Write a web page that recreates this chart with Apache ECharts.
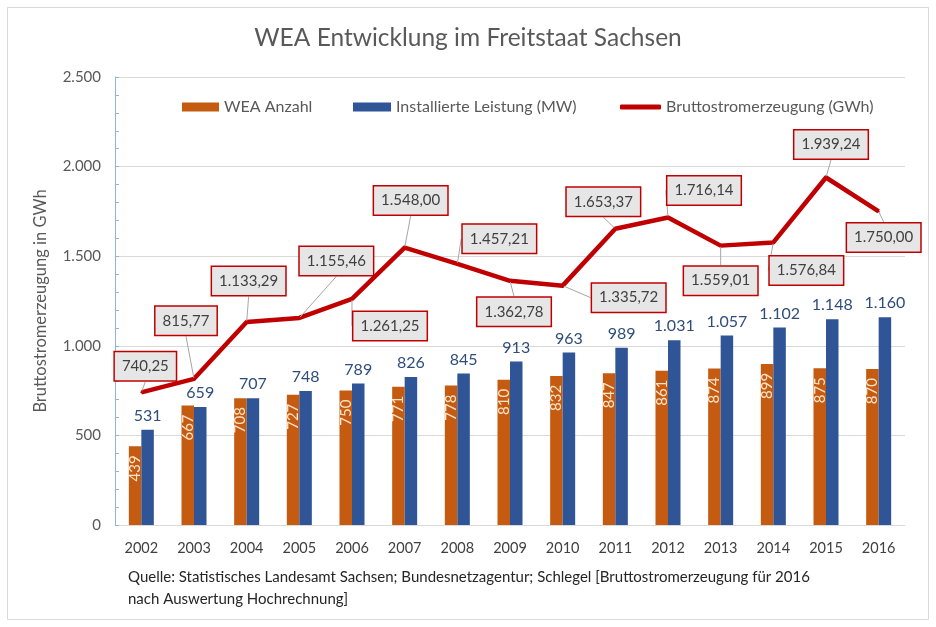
<!DOCTYPE html>
<html>
<head>
<meta charset="utf-8">
<script src="https://cdn.jsdelivr.net/npm/echarts@6/dist/echarts.min.js"></script>
<style>
html,body{margin:0;padding:0;background:#fff;}
#c{width:936px;height:627px;}
</style>
</head>
<body>
<div id="c"></div>
<script>
var years = ['2002','2003','2004','2005','2006','2007','2008','2009','2010','2011','2012','2013','2014','2015','2016'];
var weaAnzahl = [439, 667, 708, 727, 750, 771, 778, 810, 832, 847, 861, 874, 899, 875, 870];
var leistungMW = [531, 659, 707, 748, 789, 826, 845, 913, 963, 989, 1031, 1057, 1102, 1148, 1160];
var bruttoGWh = [740.25, 815.77, 1133.29, 1155.46, 1261.25, 1548.00, 1457.21, 1362.78, 1335.72, 1653.37, 1716.14, 1559.01, 1576.84, 1939.24, 1750.00];
var yTicks = [0, 500, 1000, 1500, 2000, 2500];

// label callout offsets (layout only)
var calloutOffsets = [[4,-26],[-8,-58],[2,-41],[37,-57],[38,27],[6,-47],[42,-25],[4,31],[66,12],[-12,-27],[36,-27],[0,35],[33,28],[5,-33],[5,26]];

var FONT = 'Lato';
function deNum(v, dec) {
  var s = v.toFixed(dec);
  var parts = s.split('.');
  var intPart = parts[0].replace(/\B(?=(\d{3})+(?!\d))/g, '.');
  return dec > 0 ? intPart + ',' + parts[1] : intPart;
}

var chart = echarts.init(document.getElementById('c'), null, {renderer: 'canvas'});
var option = {
  animation: false,
  backgroundColor: '#fff',
  textStyle: {fontFamily: FONT},
  title: {
    text: 'WEA Entwicklung im Freitstaat Sachsen',
    left: 'center', top: 21,
    textStyle: {fontFamily: FONT, fontSize: 24.5, fontWeight: 'normal', color: '#595959'}
  },
  graphic: [
    {type: 'rect', left: 5, top: 5, shape: {width: 921, height: 612}, style: {fill: 'none', stroke: '#d9d9d9', lineWidth: 1}, silent: true},
    {type: 'text', left: 128, top: 566, style: {text: 'Quelle: Statistisches Landesamt Sachsen; Bundesnetzagentur; Schlegel [Bruttostromerzeugung für 2016\nnach Auswertung Hochrechnung]', font: '15px ' + FONT, fill: '#262626', lineHeight: 22}}
  ],
  legend: [
    {data: [{name: 'WEA Anzahl', icon: 'rect'}], left: 177, top: 94, itemWidth: 37, itemHeight: 9, itemGap: 5, textStyle: {fontSize: 16, color: '#595959', fontFamily: FONT}},
    {data: [{name: 'Installierte Leistung (MW)', icon: 'rect'}], left: 348, top: 94, itemWidth: 38, itemHeight: 9, textStyle: {fontSize: 16, color: '#595959', fontFamily: FONT}},
    {data: [{name: 'Bruttostromerzeugung (GWh)', icon: 'roundRect', itemStyle: {color: '#c00000'}}], left: 615, top: 94, itemWidth: 41, itemHeight: 5, textStyle: {fontSize: 16, color: '#595959', fontFamily: FONT}}
  ],
  grid: {left: 115, right: 31, top: 77, bottom: 102, containLabel: false},
  xAxis: {
    type: 'category',
    data: years,
    axisLine: {lineStyle: {color: '#d9d9d9', width: 1}},
    axisTick: {show: false},
    axisLabel: {color: '#404040', fontSize: 14.5, margin: 16, fontFamily: FONT}
  },
  yAxis: {
    type: 'value',
    min: yTicks[0], max: yTicks[yTicks.length - 1], interval: 500,
    name: 'Bruttostromerzeugung in GWh',
    nameLocation: 'middle', nameGap: 66, nameRotate: 90,
    nameTextStyle: {color: '#595959', fontSize: 16.5, fontFamily: FONT},
    axisLine: {show: true, lineStyle: {color: '#8fb4de', width: 1}},
    axisTick: {show: true, inside: true, length: 4, lineStyle: {color: '#8fb4de'}},
    minorTick: {show: true, splitNumber: 5, length: 4, lineStyle: {color: '#8fb4de'}},
    axisLabel: {color: '#595959', fontSize: 15, margin: 14, fontFamily: FONT, formatter: function (v) { return deNum(v, 0); }},
    splitLine: {show: true, lineStyle: {color: '#d9d9d9', width: 1}}
  },
  series: [
    {
      name: 'WEA Anzahl', type: 'bar', data: weaAnzahl,
      barWidth: 12.5, barGap: '0%',
      itemStyle: {color: '#c55a11'},
      label: {show: true, position: 'insideTop', rotate: 90, align: 'right', verticalAlign: 'middle', distance: 9,
        color: '#fde4c8', fontSize: 15, fontFamily: FONT, formatter: function (p) { return deNum(p.value, 0); }}
    },
    {
      name: 'Installierte Leistung (MW)', type: 'bar', data: leistungMW,
      barWidth: 12.5, barGap: '0%',
      itemStyle: {color: '#2f5597'},
      label: {show: true, position: 'top', distance: 6, color: '#2e4d7b', fontSize: 16, fontFamily: FONT,
        formatter: function (p) { return deNum(p.value, 0); }}
    },
    {
      name: 'Bruttostromerzeugung (GWh)', type: 'line', data: bruttoGWh,
      symbol: 'circle', symbolSize: 2, showSymbol: true,
      itemStyle: {color: '#c00000'},
      lineStyle: {color: '#c00000', width: 4.5, join: 'round'},
      z: 5,
      label: {show: true, position: 'inside', color: '#404040', fontSize: 15, fontFamily: FONT,
        backgroundColor: '#e7e6e6', borderColor: '#c00000', borderWidth: 1.5, padding: [7, 7, 6, 7],
        formatter: function (p) { return deNum(p.value, 2); }},
      labelLine: {show: true, lineStyle: {color: '#a6a6a6', width: 1}},
      labelLayout: function (params) {
        var o = calloutOffsets[params.dataIndex];
        return {dx: o[0], dy: o[1]};
      }
    }
  ]
};
chart.setOption(option);
</script>
</body>
</html>
